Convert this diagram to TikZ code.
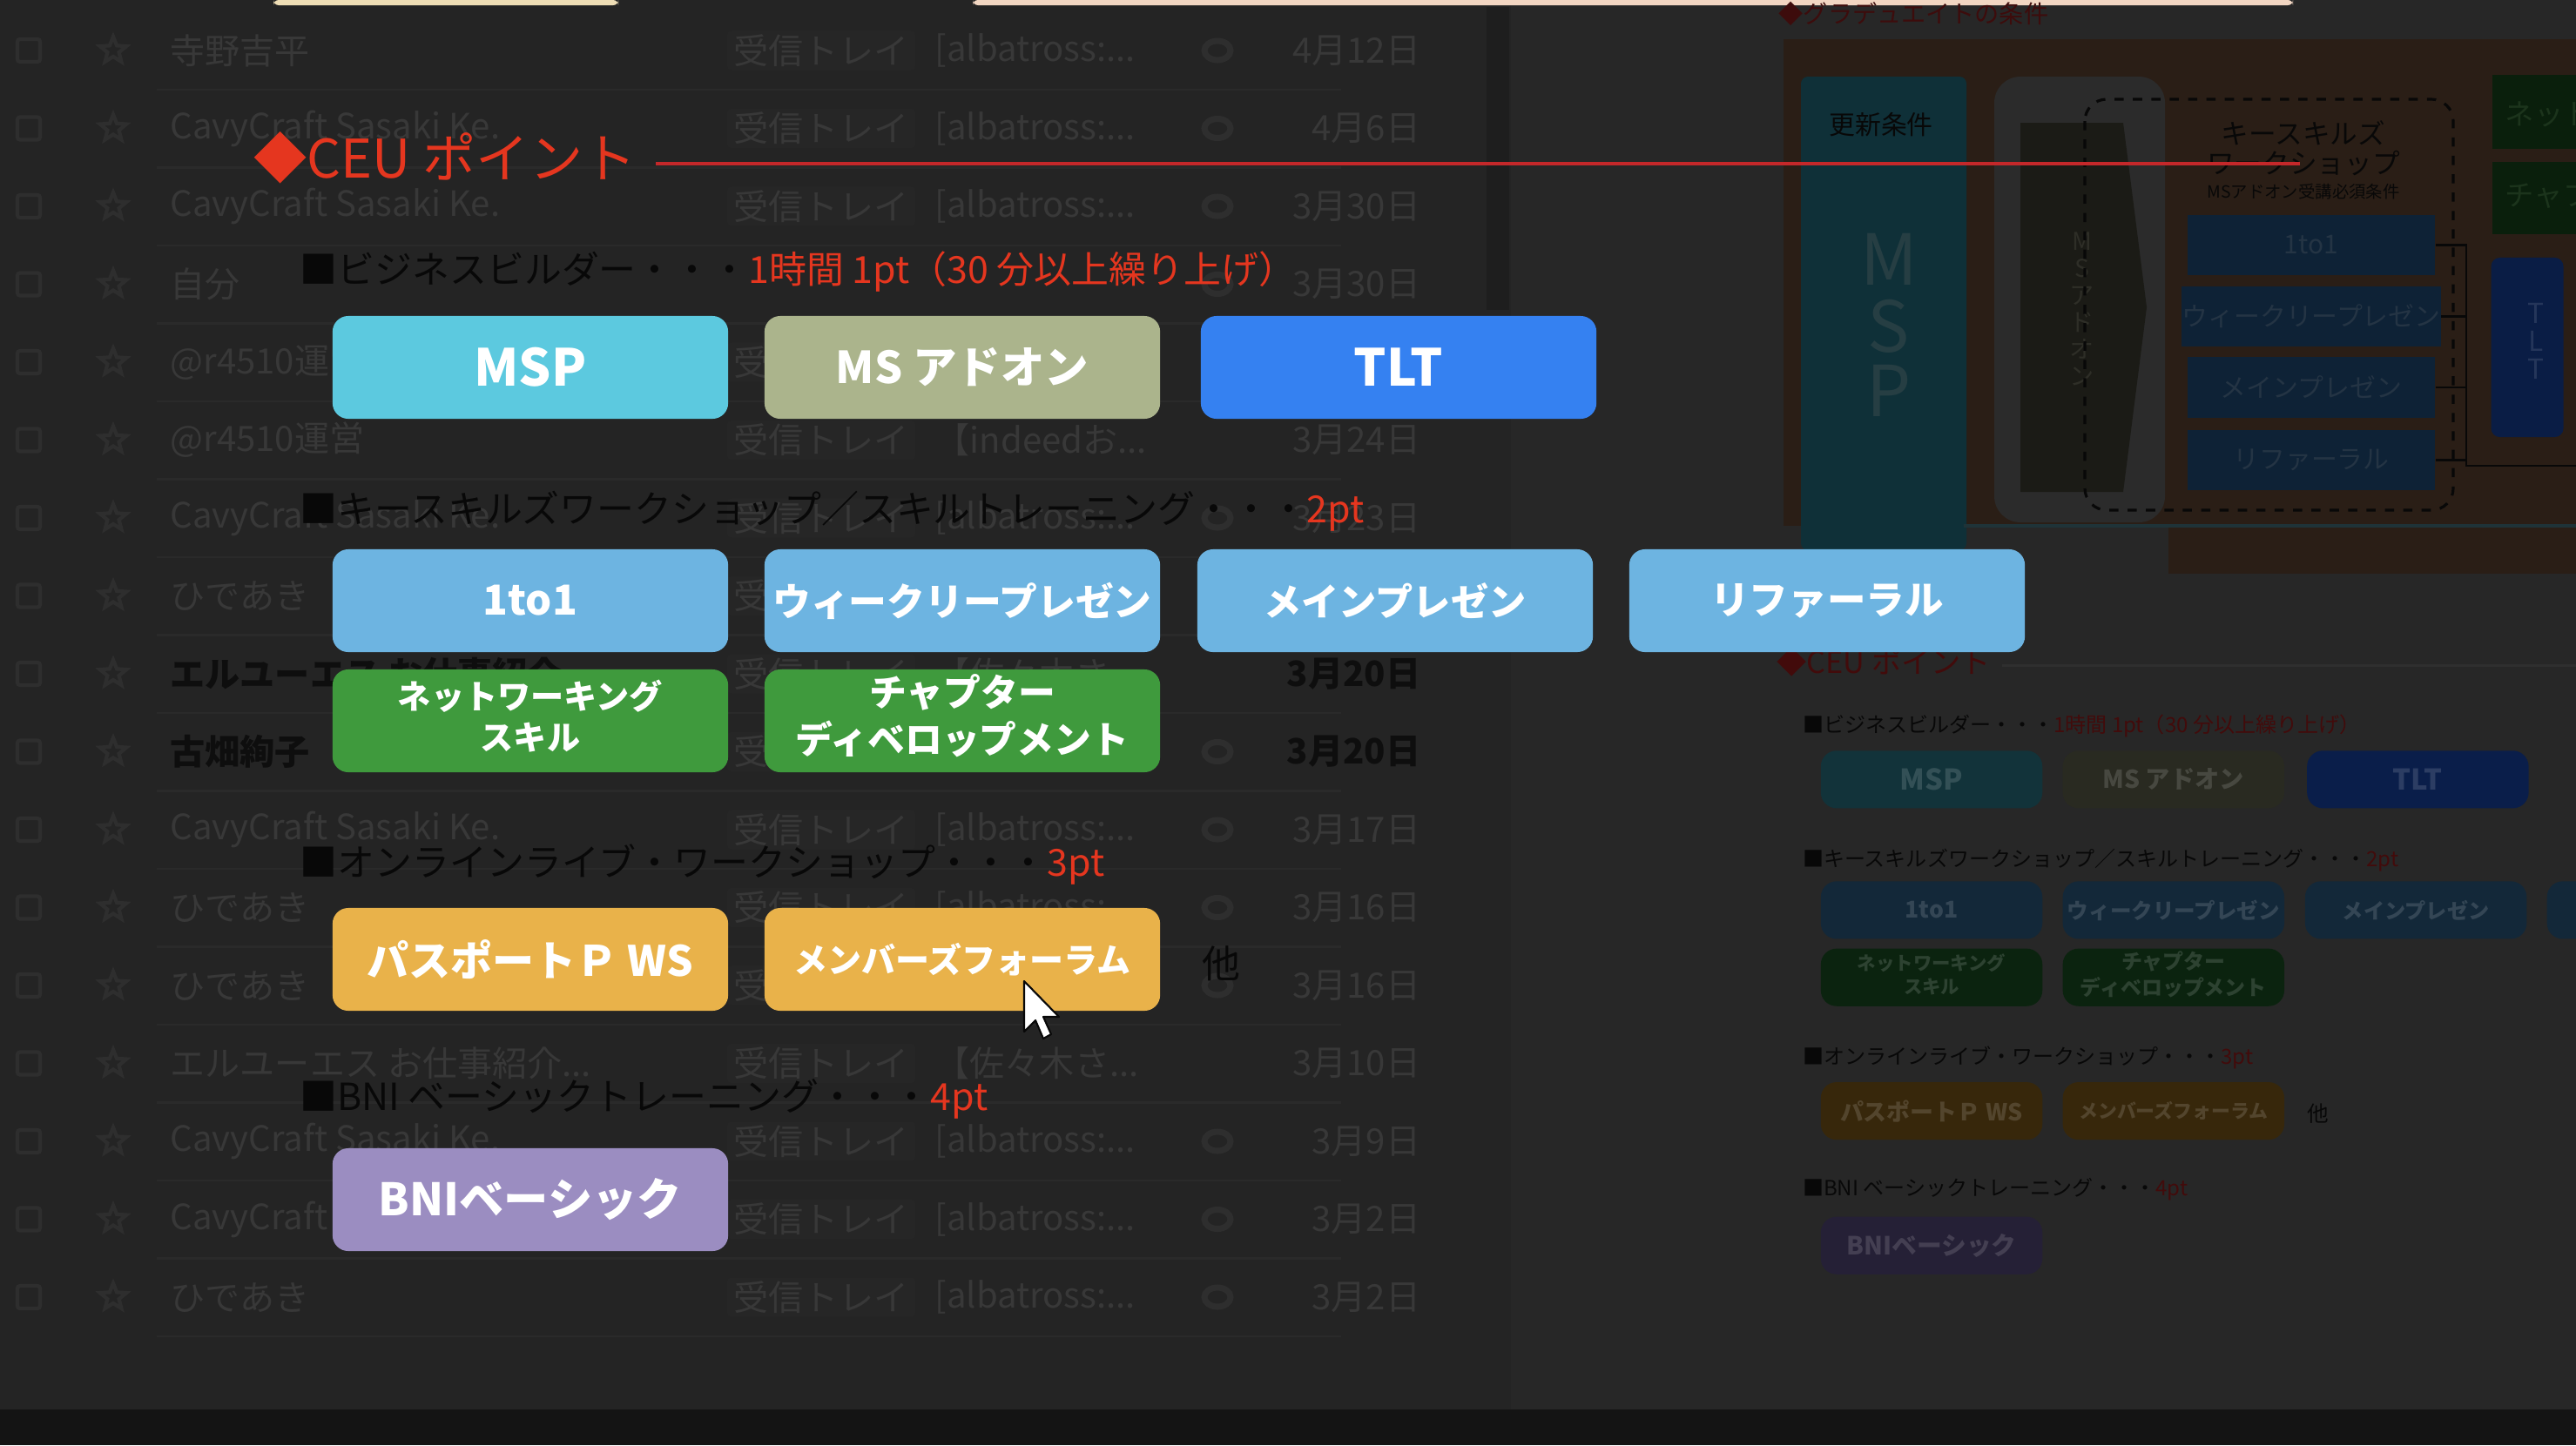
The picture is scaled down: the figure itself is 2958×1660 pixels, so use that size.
\documentclass[tikz,border=0pt]{standalone}
\usepackage{fontspec}
\usepackage{graphicx}
\usetikzlibrary{shapes.geometric}
\setmainfont{Noto Sans CJK JP}
\newfontfamily\jpf{Noto Sans CJK JP}

\definecolor{bgc}{HTML}{242424}
\definecolor{bgR}{HTML}{272727}
\definecolor{stripc}{HTML}{141414}
\definecolor{scrollc}{HTML}{1E1E1E}
\definecolor{ink}{HTML}{080808}
\definecolor{rowN}{HTML}{383838}
\definecolor{rowB}{HTML}{0E0E0E}
\definecolor{rowL}{HTML}{2A2A2A}
\definecolor{chipbg}{HTML}{262626}
\definecolor{iconc}{HTML}{2E2E2E}
% bright
\definecolor{bRed}{HTML}{E5361F}
\definecolor{bLine}{HTML}{C4282A}
\definecolor{bMSP}{HTML}{5CC9DF}
\definecolor{bAdd}{HTML}{ABB48C}
\definecolor{bTLT}{HTML}{3581F1}
\definecolor{bBlue}{HTML}{6DB4E1}
\definecolor{bGreen}{HTML}{3F9A3D}
\definecolor{bOrange}{HTML}{E9B24A}
\definecolor{bPurple}{HTML}{9B8DC1}
% dim
\definecolor{dRed}{HTML}{420B0B}
\definecolor{dLine}{HTML}{2F2F2F}
\definecolor{dMSP}{HTML}{12333A}
\definecolor{dAdd}{HTML}{292A21}
\definecolor{dTLT}{HTML}{0A1E4A}
\definecolor{dBlue}{HTML}{132839}
\definecolor{dGreen}{HTML}{0B230F}
\definecolor{dOrange}{HTML}{37270B}
\definecolor{dPurple}{HTML}{252036}
% top-right dim diagram
\definecolor{tOrange}{HTML}{2A1E16}
\definecolor{tTeal}{HTML}{0F3038}
\definecolor{tTealTxt}{HTML}{263E43}
\definecolor{tTealLine}{HTML}{1F3338}
\definecolor{tGrey}{HTML}{2B2B2B}
\definecolor{tChev}{HTML}{1B1B16}
\definecolor{tChevTxt}{HTML}{2E2E27}
\definecolor{tBlue}{HTML}{0E2236}
\definecolor{tBlueTxt}{HTML}{243444}
\definecolor{tTLT}{HTML}{0A1D45}
\definecolor{tTLTTxt}{HTML}{25365A}
\definecolor{tGreen}{HTML}{0A1F0C}
\definecolor{tGreenTxt}{HTML}{1C341C}
\definecolor{tRed}{HTML}{3D0C0C}
\definecolor{barA}{HTML}{EEDDB5}
\definecolor{barB}{HTML}{F2D6C2}

\newcommand\setceucolors[1]{%
  \colorlet{cRed}{#1Red}\colorlet{cLine}{#1Line}\colorlet{cMSP}{#1MSP}%
  \colorlet{cAdd}{#1Add}\colorlet{cTLT}{#1TLT}\colorlet{cBlue}{#1Blue}%
  \colorlet{cGreen}{#1Green}\colorlet{cOrange}{#1Orange}\colorlet{cPurple}{#1Purple}}
\newcommand\twoline[2]{\begin{tabular}{@{}c@{}}#1\\#2\end{tabular}}
\newcommand\sAlb{[albatross:...}
\newcommand\sInd{【indeedお...}
\newcommand\sSas{【佐々木さ...}
\newcommand\sElu{エルユーエス お仕事紹介...}
\newcommand\labmix{0}

\newcommand\ceubody{%
  \node[hdr] (ceu) at (291,181) {◆CEU ポイント};
  \coordinate (hlA) at (753,188);
  \coordinate (hlB) at (2641,188);
  \draw[hline] (hlA) -- (hlB);
  \node[head] (h1) at (344,312) {■ビジネスビルダー・・・\textcolor{cRed}{1時間 1pt（30 分以上繰り上げ）}};
  \node[head] (h2) at (344,587) {■キースキルズワークショップ／スキルトレーニング・・・\textcolor{cRed}{2pt}};
  \node[head] (h3) at (344,993) {■オンラインライブ・ワークショップ・・・\textcolor{cRed}{3pt}};
  \node[head] (h4) at (344,1262) {■BNI ベーシックトレーニング・・・\textcolor{cRed}{4pt}};
  \node[box=cMSP] (msp) at (609,422) {\resizebox{1.29cm}{!}{MSP}};
  \node[box=cAdd] (msa) at (1105,422) {\resizebox{2.90cm}{!}{MS アドオン}};
  \node[box=cTLT] (tlt) at (1606,422) {\resizebox{1.02cm}{!}{TLT}};
  \node[box=cBlue] (oto) at (609,690) {\resizebox{1.08cm}{!}{1to1}};
  \node[box=cBlue] (wkp) at (1105,690) {\resizebox{4.35cm}{!}{ウィークリープレゼン}};
  \node[box=cBlue] (mnp) at (1602,690) {\resizebox{3.01cm}{!}{メインプレゼン}};
  \node[box=cBlue] (rfr) at (2098,690) {\resizebox{2.67cm}{!}{リファーラル}};
  \node[box=cGreen] (nws) at (609,828) {\resizebox{3.04cm}{!}{\twoline{ネットワーキング}{スキル}}};
  \node[box=cGreen] (chd) at (1105,828) {\resizebox{3.82cm}{!}{\twoline{チャプター}{ディベロップメント}}};
  \node[box=cOrange] (pws) at (609,1102) {\resizebox{3.75cm}{!}{パスポートＰ WS}};
  \node[box=cOrange] (mbf) at (1105,1102) {\resizebox{3.87cm}{!}{メンバーズフォーラム}};
  \node[plain] (hoka) at (1402,1107) {他};
  \node[box=cPurple] (bni) at (609,1378) {\resizebox{3.48cm}{!}{BNIベーシック}};
}

\begin{document}
\begin{tikzpicture}[x=0.01cm, y=-0.01cm,
  hdr/.style={anchor=west, inner sep=0, text=cRed, font=\jpf\fontsize{17.4pt}{20pt}\selectfont},
  hline/.style={draw=cLine, line width=0.9pt},
  head/.style={anchor=west, inner sep=0, text=ink, font=\jpf\fontsize{12.2pt}{14pt}\selectfont},
  plain/.style={inner sep=0, text=ink, font=\jpf\fontsize{12.5pt}{14pt}\selectfont},
  box/.style={fill=#1, text=#1!\labmix!white, minimum width=4.54cm, minimum height=1.18cm,
    rounded corners=0.18cm, inner sep=0, font=\jpf\bfseries\fontsize{10pt}{12.4pt}\selectfont},
  rowt/.style={anchor=west, inner sep=0, text=rowN, font=\jpf\fontsize{11.4pt}{13pt}\selectfont},
  rowtb/.style={anchor=west, inner sep=0, text=rowB, font=\jpf\bfseries\fontsize{11.4pt}{13pt}\selectfont},
  chip/.style={fill=chipbg, rounded corners=0.05cm, inner xsep=0.08cm, inner ysep=0.04cm, text=rowN,
    font=\jpf\fontsize{11.4pt}{13pt}\selectfont},
  chk/.style={draw=iconc, line width=1.2pt, minimum size=0.26cm, inner sep=0, rounded corners=0.03cm},
  stari/.style={star, star points=5, star point ratio=2.3, draw=iconc, line width=1.2pt, minimum size=0.32cm, inner sep=0},
  clipi/.style={ellipse, draw=iconc, line width=2pt, minimum width=0.3cm, minimum height=0.22cm, inner sep=0},
  rowline/.style={draw=rowL, line width=0.6pt},
  tdark/.style={inner sep=0, text=ink, font=\jpf\fontsize{8.5pt}{10pt}\selectfont},
  tbx/.style={fill=tBlue, minimum width=2.84cm, minimum height=0.69cm, inner sep=0, text=tBlueTxt,
    font=\jpf\fontsize{8.5pt}{10pt}\selectfont},
  brk/.style={draw=ink, line width=0.8pt}
]
\useasboundingbox (0,0) rectangle (2958,1660);
\fill[bgc] (0,0) rectangle (2958,1660);
\fill[bgR] (1735,0) rectangle (2958,1619);
\fill[stripc] (0,1619) rectangle (2958,1660);

% ---------- top pale bars and scrollbar ----------
\fill[barA, rounded corners=0.06cm] (314,0) rectangle (710,6);
\fill[barB, rounded corners=0.06cm] (1117,0) rectangle (2633,6);
\fill[scrollc] (1707,8) rectangle (1733,356);

% ---------- dim top-right diagram ----------
\node[anchor=west, inner sep=0, text=tRed, font=\jpf\fontsize{8pt}{9pt}\selectfont] (grad) at (2042,16) {◆グラデュエイトの条件};
\fill[tOrange] (2048,45) rectangle (2958,604);
\fill[tOrange] (2490,590) rectangle (2958,659);
\fill[tTeal, rounded corners=0.08cm] (2068,88) rectangle (2258,632);
\coordinate (tlA) at (2255,604);
\coordinate (tlB) at (2958,604);
\draw[draw=tTealLine, line width=1.2pt] (tlA) -- (tlB);
\node[tdark] (kousin) at (2160,143) {更新条件};
\node[inner sep=0, text=tTealTxt, font=\jpf\fontsize{23pt}{26pt}\selectfont] (bM) at (2169,298) {M};
\node[inner sep=0, text=tTealTxt, font=\jpf\fontsize{23pt}{26pt}\selectfont] (bS) at (2169,375) {S};
\node[inner sep=0, text=tTealTxt, font=\jpf\fontsize{23pt}{26pt}\selectfont] (bP) at (2169,449) {P};
\fill[tGrey, rounded corners=0.3cm] (2290,88) rectangle (2486,600);
\fill[tChev] (2320,141) -- (2438,141) -- (2465,353) -- (2438,565) -- (2320,565) -- cycle;
\node[inner sep=0, align=center, text=tChevTxt, font=\jpf\fontsize{8pt}{8.8pt}\selectfont] (msav) at (2391,355) {M\\S\\ア\\ド\\オ\\ン};
\draw[draw=ink, dashed, line width=0.9pt, rounded corners=0.25cm] (2394,114) rectangle (2817,586);
\node[tdark, font=\jpf\fontsize{9pt}{10pt}\selectfont] (ks1) at (2645,153) {キースキルズ};
\node[tdark, font=\jpf\fontsize{9pt}{10pt}\selectfont] (ks2) at (2645,188) {ワークショップ};
\node[tdark, font=\jpf\fontsize{5.5pt}{6pt}\selectfont] (ks3) at (2645,220) {MSアドオン受講必須条件};
\node[tbx] (tb1) at (2654,281.5) {1to1};
\node[tbx] (tb2) at (2654,363.5) {ウィークリープレゼン};
\node[tbx] (tb3) at (2654,445) {メインプレゼン};
\node[tbx] (tb4) at (2654,528.5) {リファーラル};
\coordinate (bkT) at (2832,281.5);
\coordinate (bkB) at (2832,535);
\coordinate (bkR) at (2958,535);
\draw[brk] (tb1.east) -- (bkT) -- (bkB) -- (bkR);
\draw[brk] (tb2.east) -- (tb2.east -| bkT);
\draw[brk] (tb3.east) -- (tb3.east -| bkT);
\draw[brk] (tb4.east) -- (tb4.east -| bkT);
\node[fill=tTLT, rounded corners=0.1cm, minimum width=0.83cm, minimum height=2.06cm, inner sep=0] (ttl) at (2902,399) {};
\node[inner sep=0, align=center, text=tTLTTxt, font=\jpf\fontsize{9pt}{9pt}\selectfont] (ttlt) at (2912,392) {T\\L\\T};
\fill[tGreen] (2862,86) rectangle (2958,171);
\fill[tGreen] (2862,186) rectangle (2958,269);
\node[anchor=west, inner sep=0, text=tGreenTxt, font=\jpf\fontsize{9.5pt}{10pt}\selectfont] (gn1) at (2876,131) {ネット};
\node[anchor=west, inner sep=0, text=tGreenTxt, font=\jpf\fontsize{9.5pt}{10pt}\selectfont] (gn2) at (2876,224) {チャプ};

% ---------- dim copy of the CEU slide ----------
\begin{scope}[shift={(1877,659)}, scale=0.56, transform shape, name prefix=d-]
\setceucolors{d}
\renewcommand\labmix{86}
\ceubody
\end{scope}

% ---------- dim e-mail list ----------
\foreach \i/\snd/\lab/\subj/\clp/\dt/\bb in {
 1/寺野吉平/1/\sAlb/1/4月12日/rowt,
 2/CavyCraft Sasaki Ke./1/\sAlb/1/4月6日/rowt,
 3/CavyCraft Sasaki Ke./1/\sAlb/1/3月30日/rowt,
 4/自分/0/{}/1/3月30日/rowt,
 5/@r4510運営/1/\sAlb/1/{}/rowt,
 6/@r4510運営/1/\sInd/0/3月24日/rowt,
 7/CavyCraft Sasaki Ke./1/\sAlb/1/3月23日/rowt,
 8/ひであき/1/{}/0/{}/rowt,
 9/エルユーエス お仕事紹介/1/\sSas/0/3月20日/rowtb,
 10/古畑絢子/1/{}/1/3月20日/rowtb,
 11/CavyCraft Sasaki Ke./1/\sAlb/1/3月17日/rowt,
 12/ひであき/1/\sAlb/1/3月16日/rowt,
 13/ひであき/1/\sAlb/1/3月16日/rowt,
 14/\sElu/1/\sSas/0/3月10日/rowt,
 15/CavyCraft Sasaki Ke./1/\sAlb/1/3月9日/rowt,
 16/CavyCraft Sasaki Ke./1/\sAlb/1/3月2日/rowt,
 17/ひであき/1/\sAlb/1/3月2日/rowt}{
  \pgfmathsetmacro\yy{58+89.5*(\i-1)}
  \node[chk] (ck\i) at (33,\yy) {};
  \node[stari] (st\i) at (130,\yy) {};
  \node[\bb] (sn\i) at (195,\yy) {\snd};
  \ifnum\lab=1 \node[chip] (lb\i) at (943,\yy) {受信トレイ}; \fi
  \node[rowt] (sj\i) at (1073,\yy) {\subj};
  \ifnum\clp=1 \node[clipi] (cp\i) at (1398,\yy) {}; \fi
  \node[\bb, anchor=east] (dt\i) at (1632,\yy) {\dt};
  \draw[rowline] (180,{\yy+45}) -- (1540,{\yy+45});
}

% ---------- bright CEU slide ----------
\begin{scope}
\setceucolors{b}
\renewcommand\labmix{0}
\ceubody
\end{scope}

% ---------- mouse pointer ----------
\coordinate (tip) at (1176,1127);
\draw[fill=white, draw=ink, line width=0.6pt, line join=round]
  (tip) -- ++(0,58) -- ++(13,-13) -- ++(9,21) -- ++(9,-5) -- ++(-9,-20) -- ++(18,0) -- cycle;
\end{tikzpicture}
\end{document}
